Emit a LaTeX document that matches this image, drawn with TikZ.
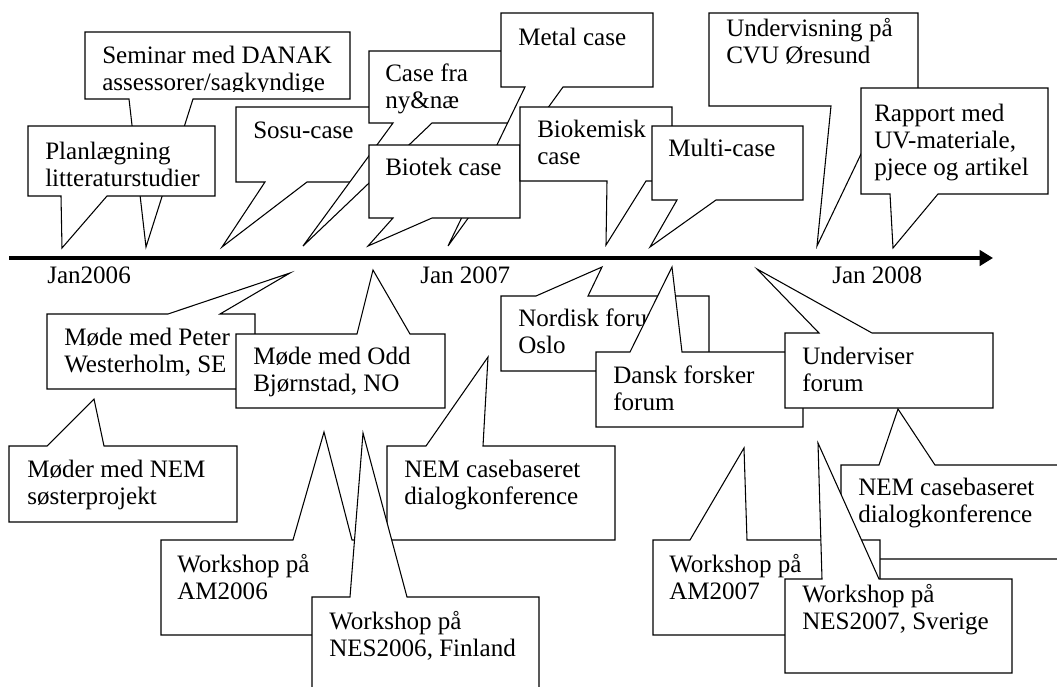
\documentclass[tikz,border=0pt]{standalone}
\usepackage{fontspec}
\setmainfont{Liberation Serif}
\usetikzlibrary{arrows.meta}

\tikzset{
  bubble/.style={draw=black, fill=white, line width=0.8pt, line join=miter},
  txt/.style={anchor=base west, inner sep=0pt, font=\fontsize{18.8}{20.6}\selectfont},
  axis/.style={line width=3pt, -{Triangle[length=10pt,width=11.5pt]}}
}

% speech bubble with its pointer on the lower edge:
% x1,y1 (top left), x2,y2 (bottom right), pointer base b1,b2, pointer tip tx,ty
\newcommand\bubbledown[8]{\path[bubble] (#1,#2) -- (#3,#2) -- (#3,#4) -- (#6,#4) -- (#7,#8) -- (#5,#4) -- (#1,#4) -- cycle;}
% speech bubble with its pointer on the upper edge
\newcommand\bubbleup[8]{\path[bubble] (#1,#4) -- (#1,#2) -- (#5,#2) -- (#7,#8) -- (#6,#2) -- (#3,#2) -- (#3,#4) -- cycle;}
% several lines, aligned on the first baseline
\newcommand\lns[1]{\begin{tabular}[t]{@{}l@{}}#1\end{tabular}}

\begin{document}
\begin{tikzpicture}[x=0.75pt,y=-0.75pt]
\clip (0,0) rectangle (1057,686);
\fill[white] (0,0) rectangle (1057,686);

% ---- events above the time line ----
\bubbledown{85}{32}{350}{99}{129}{193}{146}{247}
\begin{scope}
  \clip (85,32) rectangle (350,91.5);
  \node[txt] (tSeminar) at (102,63) {\lns{Seminar med DANAK\\assessorer/sagkyndige}};
\end{scope}

\bubbledown{28}{126}{215}{196}{61}{107}{62}{248}
\node[txt] (tPlan) at (45,159) {\lns{Planlægning\\litteraturstudier}};

\bubbledown{236}{107}{400}{182}{265}{307}{222}{247}
\node[txt] (tSosu) at (253,138) {Sosu-case};

\bubbledown{369}{51}{535}{123}{393}{432}{303}{246}
\node[txt] (tCase) at (385,81) {\lns{Case fra\\ny\&næ}};

\bubbledown{501}{13}{653}{87}{525}{563}{448}{246}
\node[txt] (tMetal) at (518,45) {Metal case};

\bubbledown{369}{145}{520}{218}{393}{432}{368}{246}
\node[txt] (tBiotek) at (385,175) {Biotek case};

\bubbledown{520}{107}{672}{181}{607}{646}{606}{245}
\node[txt] (tBiokem) at (537,137) {\lns{Biokemisk\\case}};

\bubbledown{652}{126}{803}{200}{677}{716}{650}{247}
\node[txt] (tMulti) at (668,156) {Multi-case};

\bubbledown{709}{13}{918}{106}{831}{884}{817}{246}
\node[txt] (tUnderv) at (726,36) {\lns{Undervisning på\\CVU Øresund}};

\bubbledown{861}{88}{1048}{194}{890}{938}{893}{248}
\node[txt] (tRapport) at (874,121) {\lns{Rapport med\\UV-materiale,\\pjece og artikel}};

% ---- time line ----
\coordinate (axL) at (9,258);
\coordinate (axR) at (993,258);
\draw[axis] (axL) -- (axR);
\node[txt] (d2006) at (47,283) {Jan2006};
\node[txt] (d2007) at (420,283) {Jan 2007};
\node[txt] (d2008) at (832,283) {Jan 2008};

% ---- events below the time line ----
\bubbleup{47}{314}{255}{389}{168}{220}{290}{273}
\node[txt] (tPeter) at (64,345) {\lns{Møde med Peter\\Westerholm, SE}};

\bubbleup{236}{334}{445}{408}{357}{410}{373}{270}
\node[txt] (tOdd) at (253,364) {\lns{Møde med Odd\\Bjørnstad, NO}};

\bubbleup{9}{446}{237}{522}{47}{104}{94}{399}
\node[txt] (tSoster) at (27,477) {\lns{Møder med NEM\\søsterprojekt}};

\bubbleup{501}{296}{709}{371}{536}{588}{602}{267}
\node[txt] (tNordisk) at (518,326) {\lns{Nordisk forum\\Oslo}};

\bubbleup{596}{352}{803}{427}{630}{682}{672}{267}
\node[txt] (tDansk) at (613,383) {\lns{Dansk forsker\\forum}};

\bubbleup{785}{333}{993}{408}{819}{872}{757}{269}
\node[txt] (tUforum) at (802,364) {\lns{Underviser\\forum}};

\bubbleup{387}{446}{615}{540}{426}{483}{488}{357}
\node[txt] (tNemA) at (404,477) {\lns{NEM casebaseret\\dialogkonference}};

\bubbleup{161}{540}{380}{635}{293}{352}{324}{432}
\node[txt] (tAM6) at (177,572) {\lns{Workshop på\\AM2006}};

\bubbleup{312}{597}{539}{695}{350}{407}{363}{433}
\node[txt] (tNES6) at (329,629) {\lns{Workshop på\\NES2006, Finland}};

\bubbleup{841}{465}{1075}{559}{879}{935}{898}{409}
\node[txt] (tNemB) at (858,495) {\lns{NEM casebaseret\\dialogkonference}};

\bubbleup{653}{540}{880}{635}{690}{747}{744}{448}
\node[txt] (tAM7) at (669,572) {\lns{Workshop på\\AM2007}};

\bubbleup{785}{579}{1012}{673}{822}{879}{818}{443}
\node[txt] (tNES7) at (802,602) {\lns{Workshop på\\NES2007, Sverige}};
\end{tikzpicture}
\end{document}
